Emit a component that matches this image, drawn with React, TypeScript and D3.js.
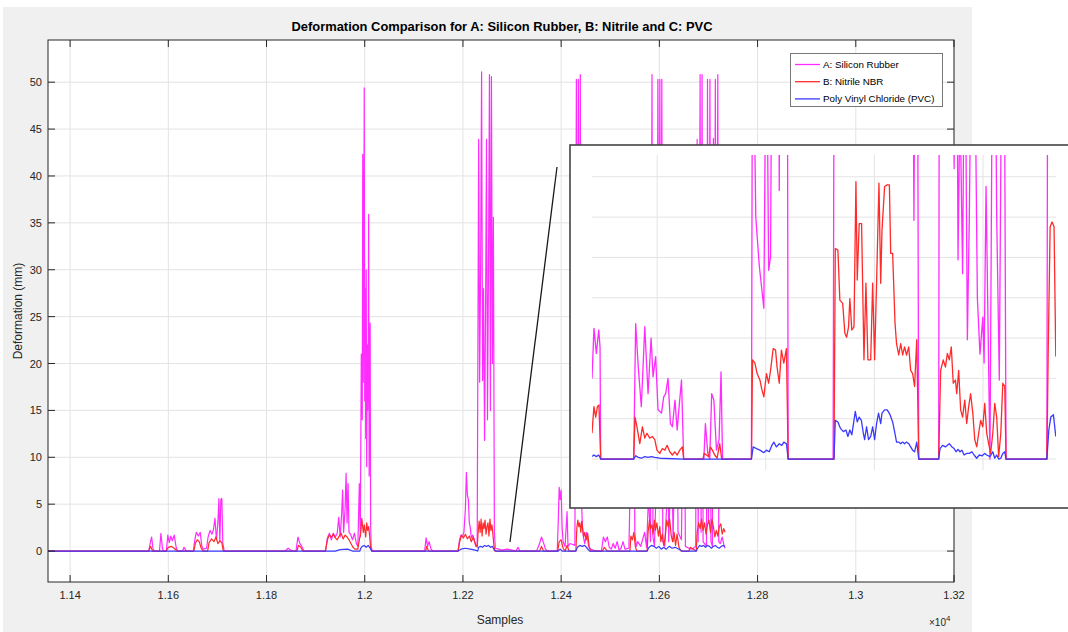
import React from 'react';
import * as d3 from 'd3';

type Pt = [number, number];

// axis ticks (samples, deformation mm)
const xTicks = [11400, 11600, 11800, 12000, 12200, 12400, 12600, 12800, 13000, 13200];
const yTicks = [0, 5, 10, 15, 20, 25, 30, 35, 40, 45, 50];
const seriesNames = ['A: Silicon Rubber', 'B: Nitrile NBR', 'Poly Vinyl Chloride (PVC)'];
const seriesColors = ['#ff2bff', '#ff2a2a', '#3a3aff'];

// main plot: [sample, deformation]
const siliconMain: Pt[] = [
  [11355, 0], [11560, 0], [11563, 0.8], [11566, 1.5], [11569, 0.2], [11572, 0], [11582, 0], [11585, 1.9], [11588, 0.3],
  [11590, 0], [11596, 0], [11599, 1.7], [11602, 0.9], [11605, 1.6], [11608, 1.1], [11612, 1.7], [11616, 0.4], [11619, 0],
  [11629, 0], [11632, 0.4], [11637, 0], [11651, 0], [11654, 1.2], [11657, 2.0], [11661, 1.6], [11665, 2.0], [11668, 0.6],
  [11671, 0.2], [11678, 0.3], [11681, 1.5], [11685, 2.2], [11689, 1.8], [11692, 2.3], [11695, 3.5], [11698, 1.2],
  [11701, 3.0], [11703, 5.6], [11705, 1.0], [11707, 5.5], [11709, 5.6], [11711, 0.8], [11714, 0],
  [11838, 0], [11844, 0.3], [11852, 0], [11860, 0], [11864, 1.5], [11868, 0.8], [11872, 0.5], [11876, 0],
  [11920, 0], [11924, 1.4], [11928, 1.9], [11932, 1.2], [11936, 1.9], [11940, 1.5], [11944, 1.9], [11947, 3.6],
  [11950, 1.5], [11953, 4.0], [11955, 6.5], [11957, 2.0], [11960, 4.5], [11962, 8.3], [11964, 3.0], [11966, 7.2],
  [11968, 2.0], [11971, 1.8], [11975, 1.2], [11979, 1.9], [11983, 0.8], [11986, 0.5], [11989, 7.2], [11991, 1.5],
  [11993, 21], [11995, 14], [11996, 42.3], [11997, 18], [11998, 30], [11999, 49.4], [12000, 16], [12001, 28], [12002, 12],
  [12003, 30], [12004, 9], [12005, 22], [12006, 15], [12007, 19], [12008, 35.9], [12009, 8], [12010, 18], [12011, 24.3],
  [12012, 3], [12013, 0.6], [12015, 0],
  [12122, 0], [12125, 1.4], [12128, 0.5], [12131, 1.0], [12135, 0.2], [12139, 0],
  [12190, 0], [12193, 1.2], [12196, 1.7], [12199, 1.5], [12202, 2.0], [12205, 4.5], [12207, 8.4], [12209, 6.0],
  [12211, 5.5], [12213, 3.0], [12215, 2.5], [12217, 1.4], [12220, 1.7], [12223, 1.2], [12226, 0.5], [12229, 0.6],
  [12232, 43.9], [12234, 18], [12236, 30], [12238, 51.1], [12240, 18.2], [12242, 28], [12244, 11.8], [12246, 25],
  [12248, 43.9], [12250, 14], [12252, 30], [12254, 50.8], [12256, 15], [12258, 50.6], [12260, 20], [12262, 35.6],
  [12264, 2], [12266, 0.3], [12280, 0.1], [12290, 0.2], [12300, 0.1], [12308, 0], [12312, 0.4], [12316, 0],
  [12350, 0], [12356, 0.8], [12360, 1.5], [12364, 0.9], [12368, 0.2], [12372, 0],
  [12392, 0], [12394, 3], [12396, 6.8], [12398, 5.5], [12400, 6.5], [12402, 2.5], [12404, 1.0], [12408, 0.5],
  [12412, 4.2], [12414, 0.5], [12418, 0.8], [12428, 0.6], [12431, 50.3], [12433, 8], [12435, 50.3], [12437, 10],
  [12439, 50.8], [12441, 6], [12443, 3.0], [12445, 1.6], [12448, 0.8], [12452, 2.0], [12456, 0.5], [12460, 0.2],
  [12470, 0], [12482, 0], [12486, 1.5], [12490, 1.0], [12494, 1.5], [12498, 0.4], [12502, 0.2], [12506, 0.8],
  [12510, 0.3], [12514, 1.0], [12518, 0.1], [12522, 0.3], [12526, 1.0], [12530, 0.2], [12538, 0.3], [12541, 8],
  [12544, 20], [12546, 10], [12548, 30], [12550, 2], [12553, 0.5], [12556, 1.0], [12562, 0.5], [12570, 2.0],
  [12574, 0.4], [12578, 6], [12582, 1.0], [12585, 50.8], [12587, 1.5], [12590, 0.5], [12594, 8], [12597, 50.3],
  [12599, 20], [12601, 50.3], [12603, 12], [12605, 50.3], [12607, 1.0], [12611, 0.5], [12615, 5], [12617, 30],
  [12619, 1], [12625, 12], [12628, 1], [12635, 25], [12638, 2], [12645, 1.2], [12650, 25], [12653, 0.5], [12660, 0.3],
  [12666, 0.2], [12674, 0.5], [12677, 43.9], [12679, 1], [12683, 50.8], [12685, 2], [12687, 50.8], [12689, 1],
  [12696, 0.5], [12698, 50.3], [12700, 3], [12703, 50.3], [12705, 1], [12708, 0.5], [12710, 44], [12712, 20],
  [12714, 50.3], [12716, 6], [12719, 50.8], [12721, 1.0], [12724, 0.8], [12728, 1.5], [12732, 0.5], [12734, 0.3],
];

const nitrileMain: Pt[] = [
  [11355, 0], [11560, 0], [11564, 0.5], [11568, 0], [11596, 0], [11600, 0.4], [11606, 0.5], [11612, 0.3], [11618, 0],
  [11652, 0], [11655, 0.8], [11659, 1.2], [11663, 1.0], [11667, 0.3], [11671, 0], [11680, 0], [11683, 0.9],
  [11688, 1.3], [11693, 1.0], [11697, 1.5], [11701, 0.8], [11705, 1.1], [11709, 0.9], [11712, 0],
  [11862, 0], [11865, 0.6], [11870, 0.4], [11874, 0], [11920, 0], [11924, 1.2], [11928, 1.7], [11932, 1.5],
  [11936, 1.8], [11940, 1.4], [11944, 1.2], [11948, 1.6], [11952, 1.9], [11956, 1.3], [11960, 1.7], [11964, 1.5],
  [11968, 1.2], [11972, 0.8], [11976, 0.4], [11980, 0.2], [11986, 0.2], [11989, 1.2], [11992, 2.0], [11994, 3.5],
  [11997, 2.0], [11999, 2.8], [12002, 1.5], [12004, 3.0], [12006, 2.2], [12008, 2.6], [12010, 1.6], [12012, 0.3],
  [12015, 0], [12124, 0], [12126, 0.5], [12130, 0], [12190, 0], [12193, 0.9], [12197, 1.7], [12201, 1.4],
  [12205, 1.8], [12209, 1.3], [12213, 1.6], [12217, 1.0], [12221, 1.5], [12225, 0.8], [12229, 0.4], [12231, 2.0],
  [12233, 3.2], [12235, 2.0], [12237, 3.4], [12239, 1.6], [12241, 3.0], [12243, 2.4], [12245, 3.3], [12247, 1.8],
  [12249, 2.6], [12251, 3.0], [12253, 1.6], [12255, 3.4], [12257, 2.2], [12259, 2.8], [12261, 1.8], [12263, 0.6],
  [12265, 0], [12356, 0], [12360, 0.5], [12364, 0], [12393, 0], [12396, 1.0], [12400, 1.2], [12404, 0.3],
  [12408, 0], [12412, 0.6], [12416, 0], [12430, 0], [12432, 2.5], [12434, 3.3], [12436, 2.6], [12438, 3.0],
  [12440, 2.0], [12442, 3.2], [12444, 2.2], [12446, 1.5], [12448, 2.0], [12451, 1.2], [12454, 1.9], [12457, 0.5],
  [12460, 0], [12484, 0], [12488, 0.4], [12494, 0], [12540, 0], [12542, 1.6], [12545, 1.2], [12548, 2.0],
  [12551, 0.5], [12554, 0], [12575, 0], [12577, 2.0], [12580, 3.3], [12582, 2.4], [12585, 2.8], [12587, 1.8],
  [12590, 3.3], [12592, 2.2], [12595, 3.0], [12598, 1.6], [12601, 2.6], [12603, 1.0], [12606, 1.8], [12609, 0.6],
  [12612, 1.5], [12615, 3.3], [12618, 2.6], [12621, 3.4], [12624, 1.7], [12627, 1.0], [12630, 2.0], [12633, 0.6],
  [12636, 1.8], [12640, 0.4], [12644, 0], [12660, 0], [12663, 0.4], [12675, 0], [12677, 2.0], [12680, 3.0],
  [12683, 2.4], [12686, 3.4], [12689, 2.2], [12692, 3.0], [12695, 1.8], [12698, 2.8], [12701, 3.3], [12704, 2.0],
  [12707, 3.4], [12710, 2.6], [12713, 1.5], [12716, 2.2], [12719, 1.6], [12722, 2.6], [12725, 2.9], [12728, 1.8],
  [12731, 2.4], [12734, 2.0],
];

const pvcMain: Pt[] = [
  [11355, 0], [11940, 0], [11950, 0.15], [11965, 0.2], [11975, 0], [11990, 0], [11992, 0.3], [11995, 0.5],
  [11999, 0.6], [12003, 0.4], [12007, 0.6], [12011, 0.3], [12014, 0], [12190, 0], [12196, 0.2], [12205, 0.3],
  [12215, 0.2], [12225, 0.1], [12230, 0], [12232, 0.4], [12236, 0.5], [12240, 0.4], [12244, 0.6], [12248, 0.5],
  [12252, 0.6], [12256, 0.4], [12260, 0.5], [12264, 0.1], [12268, 0], [12394, 0], [12398, 0.2], [12402, 0],
  [12430, 0], [12433, 0.4], [12438, 0.6], [12443, 0.5], [12448, 0.6], [12453, 0.3], [12458, 0], [12575, 0],
  [12579, 0.4], [12584, 0.6], [12589, 0.5], [12594, 0.3], [12599, 0.5], [12604, 0.2], [12609, 0.4], [12614, 0.2],
  [12620, 0.5], [12626, 0.3], [12632, 0.4], [12640, 0.2], [12646, 0], [12675, 0], [12678, 0.3], [12682, 0.6],
  [12686, 0.5], [12690, 0.6], [12694, 0.4], [12698, 0.6], [12702, 0.5], [12706, 0.3], [12710, 0.5], [12714, 0.6],
  [12718, 0.4], [12722, 0.3], [12726, 0.5], [12730, 0.6], [12734, 0.5],
];

// zoomed inset: [position, deformation in 0.01 mm]
const insetXTicks = [50, 100, 150, 200];
const insetYTicks = [0, 5, 10, 15, 20, 25, 30, 35];

const siliconInset: Pt[] = [
  [20.0, 10], [20.9, 16.2], [22.0, 13.1], [23.1, 16], [23.7, 13.9], [24.0, 0],
  [39.2, 0], [40.1, 16.8], [41.3, 11.4], [42.7, 6.5], [44.3, 16.4], [45.8, 8.1], [47.2, 15], [48.1, 10.2], [49.3, 12.7],
  [50.4, 6.1], [52.0, 5.7], [53.0, 7.7], [53.9, 8.1], [55.0, 10], [56.1, 4.4], [57.0, 4], [58.2, 7.3], [59.2, 3.6],
  [60.1, 6.5], [61.2, 9.8], [62.2, 0],
  [71.5, 0], [72.2, 4.4], [73.3, 0.7], [74.2, 0], [75.1, 8.1], [76.1, 7.3], [77.3, 1.1], [78.5, 2.4], [79.4, 10.8], [80.1, 0],
  [93.4, 0], [93.9, 60], [95.4, 30], [97.0, 24], [99.1, 18.7], [100.3, 60], [101.3, 23.4], [102.2, 25.1], [102.9, 60],
  [105.9, 60], [106.2, 33.3], [106.5, 60], [109.9, 60], [110.3, 0],
  [131.0, 0], [131.5, 60], [167.6, 60], [168.2, 29.6], [168.8, 60], [169.8, 60], [170.4, 0],
  [179.6, 0], [179.9, 60], [186.0, 60], [186.7, 36], [187.3, 60], [187.9, 60], [188.5, 24.7], [189.4, 45], [190.6, 23],
  [191.6, 60], [192.8, 14.8], [193.7, 30], [194.9, 60], [195.9, 60], [197.4, 20], [198.6, 13], [199.9, 17.6],
  [200.5, 11.9], [201.4, 33.8], [203.2, 0], [204.5, 60], [205.4, 60], [206.3, 30], [207.5, 9.8], [208.8, 60],
  [209.7, 60], [210.6, 0],
  [229.4, 0], [229.8, 60], [233.5, 60],
];

const nitrileInset: Pt[] = [
  [20.0, 3.2], [20.9, 6.5], [21.7, 5.2], [22.5, 6.5], [23.2, 6.7], [24.0, 0],
  [39.2, 0], [39.8, 5.2], [40.7, 4], [42.0, 1.9], [43.2, 4], [44.3, 2.6], [45.3, 3.2], [46.6, 2.6], [47.8, 2.8],
  [48.9, 2.4], [49.9, 1.1], [51.2, 0.7], [52.4, 1.3], [53.5, 1.1], [54.6, 1.7], [55.8, 0.9], [57.0, 0.5], [58.1, 0.9],
  [59.2, 0.5], [60.4, 1.1], [61.6, 1.5], [62.2, 0],
  [71.1, 0], [71.6, 0.7], [72.7, 0.5], [73.6, 0.3], [74.5, 1.5], [75.4, 1.1], [76.5, 0.5], [77.6, 0.1], [78.8, 1.9], [79.7, 0],
  [93.4, 0], [93.9, 12.3], [95.0, 11.9], [96.0, 10.6], [97.3, 9.8], [98.2, 8.6], [99.1, 7.7], [100.3, 10.6], [101.3, 9.4],
  [102.2, 11], [103.4, 13.7], [104.5, 13.5], [105.2, 11.4], [106.2, 9.4], [107.2, 13.5], [108.3, 11.9], [109.5, 13.7],
  [110.3, 0],
  [131.4, 0], [132.0, 26.1], [133.2, 25.9], [134.1, 19.7], [135.4, 19.3], [136.4, 15.6], [137.2, 15.1], [138.1, 16.4],
  [138.7, 19.9], [139.6, 16], [140.6, 16.4], [141.5, 34.4], [142.1, 22.2], [143.0, 29.2], [144.1, 29.2], [145.2, 12.3],
  [146.1, 21.8], [147.0, 12.3], [148.3, 12.3], [149.2, 21.8], [150.1, 12.3], [151.0, 21.8], [152.1, 34.2], [152.9, 21.8],
  [153.5, 28.4], [154.7, 33.8], [155.9, 34], [156.9, 34], [157.5, 25.5], [158.4, 25.5], [159.5, 16.8], [160.2, 14.3],
  [161.2, 12.9], [162.1, 14.3], [163.0, 12.9], [163.9, 13.9], [164.8, 12.9], [165.8, 13.9], [166.7, 11], [167.6, 10.6],
  [168.5, 9], [169.5, 14.8], [170.4, 0],
  [179.6, 0], [180.5, 11], [181.7, 12.3], [182.7, 11.4], [183.6, 13.1], [184.5, 12.3], [185.4, 13.9], [186.3, 9.4],
  [187.3, 9.8], [187.9, 8.1], [188.8, 11], [189.7, 6.1], [190.6, 5.2], [191.6, 7.3], [192.5, 4.4], [193.4, 6.5],
  [194.3, 8.1], [195.3, 5.7], [196.2, 2.4], [197.1, 1.5], [198.0, 3.2], [198.9, 4.8], [199.9, 4], [200.8, 6.9],
  [201.7, 3.2], [202.6, 1.9], [203.5, 0.7], [204.5, 3.2], [205.4, 6.9], [206.3, 5.2], [207.2, 0.3], [208.2, 3.2],
  [209.1, 9.4], [210.0, 9], [210.6, 0],
  [229.4, 0], [230.0, 13.1], [230.9, 28.8], [231.8, 29.4], [232.7, 28.8], [233.5, 12.7],
];

const pvcInset: Pt[] = [
  [20.0, 0.3], [20.9, 0.5], [22.0, 0.3], [23.1, 0.5], [24.0, 0],
  [39.2, 0], [40.1, 0.4], [41.3, 0.2], [42.7, 0.1], [44.3, 0.3], [45.8, 0.2], [47.3, 0.3], [48.9, 0.2], [51.2, 0.1], [62.2, 0],
  [93.4, 0], [94.2, 1.5], [95.7, 1.3], [97.3, 1.1], [99.1, 0.8], [100.3, 1.1], [101.6, 0.9], [102.8, 1.7], [103.7, 2.1],
  [104.9, 1.5], [106.2, 1.9], [107.4, 1.7], [108.3, 2.1], [109.5, 1.9], [110.3, 0],
  [131.4, 0], [132.0, 4.8], [133.2, 4.6], [134.4, 3.8], [135.7, 3.4], [136.9, 3.6], [137.8, 2.8], [138.7, 3.6], [139.6, 3],
  [140.6, 4.8], [141.2, 5.9], [142.1, 4.6], [143.0, 5.2], [144.0, 4.8], [144.9, 3.2], [145.5, 2.4], [146.4, 4],
  [147.3, 2.4], [148.3, 2.8], [149.2, 4], [150.1, 2.4], [151.0, 4.4], [151.9, 5.7], [152.9, 4.4], [153.5, 5.7],
  [154.7, 6.1], [155.9, 6.1], [157.2, 5.5], [158.4, 4.6], [159.3, 3.4], [160.2, 2.1], [161.2, 2.1], [162.1, 1.9],
  [163.0, 2.1], [163.9, 1.9], [164.8, 2.1], [165.8, 1.9], [166.7, 1.5], [167.6, 1.1], [168.5, 0.9], [169.5, 2.1], [170.4, 0],
  [179.6, 0], [180.2, 1.3], [181.4, 1.7], [182.7, 1.5], [183.6, 1.7], [184.5, 1.9], [185.7, 1.5], [186.7, 1.3],
  [187.6, 0.9], [188.5, 1.2], [189.4, 0.9], [190.3, 1.1], [191.3, 0.5], [192.5, 0.7], [193.7, 0.7], [194.9, 0.9],
  [195.9, 0.5], [197.1, 0.1], [198.3, 0.5], [199.6, 0.4], [200.8, 0.7], [201.7, 0.5], [203.2, 0.3], [204.5, 0.9],
  [205.4, 0.1], [206.3, 0.5], [207.2, 0], [208.2, 0.1], [209.1, 0.7], [210.0, 0.9], [210.6, 0],
  [229.4, 0], [230.3, 3.6], [231.2, 5.2], [232.4, 5.5], [233.5, 2.8],
];

const font = 'Liberation Sans, Arial, Helvetica, sans-serif';
const axisColor = '#262626';
const gridColor = '#e3e3e3';

export default function App() {
  const W = 1068, H = 632;
  const L = 48, R = 954, T = 40, B = 582;

  const x = d3.scaleLinear().domain([11355, 13200]).range([L, R]);
  const y = d3.scaleLinear().domain([-3.3, 54.5]).range([B, T]);
  const line = d3.line<Pt>().x(d => x(d[0])).y(d => y(d[1]));

  // inset axes
  const iL = 592, iR = 1056, iT = 155, iB = 470;
  const ix = d3.scaleLinear().domain([20, 233.6]).range([iL, iR]);
  const iy = d3.scaleLinear().domain([-1.36, 37.7]).range([iB, iT]);
  const iline = d3.line<Pt>().x(d => ix(d[0])).y(d => iy(d[1]));

  const mainSeries = [siliconMain, nitrileMain, pvcMain];
  const insetSeries = [siliconInset, nitrileInset, pvcInset];
  const tick = 7;

  return (
    <div style={{ position: 'absolute', left: 0, top: 0 }}>
      <svg width={W} height={H} style={{ display: 'block', background: '#fff' }} fontFamily={font}>
        <defs>
          <clipPath id="plotClip"><rect x={L} y={T} width={R - L} height={B - T} /></clipPath>
          <clipPath id="insetClip"><rect x={iL} y={iT} width={iR - iL} height={iB - iT} /></clipPath>
        </defs>
        <rect x={3} y={7} width={969} height={625} fill="#f0f0f0" />
        <rect x={L} y={T} width={R - L} height={B - T} fill="#fff" />

        {/* grid */}
        {xTicks.map(t => (
          <line key={'gx' + t} x1={x(t)} x2={x(t)} y1={T} y2={B} stroke={gridColor} strokeWidth={1} />
        ))}
        {yTicks.map(t => (
          <line key={'gy' + t} x1={L} x2={R} y1={y(t)} y2={y(t)} stroke={gridColor} strokeWidth={1} />
        ))}

        {/* data */}
        <g clipPath="url(#plotClip)" fill="none" strokeLinejoin="round">
          {mainSeries.map((s, i) => (
            <path key={'m' + i} d={line(s) || ''} stroke={seriesColors[i]} strokeWidth={1.2} />
          ))}
        </g>

        {/* axes box and ticks */}
        <rect x={L} y={T} width={R - L} height={B - T} fill="none" stroke={axisColor} strokeWidth={1} />
        {xTicks.map(t => (
          <g key={'tx' + t}>
            <line x1={x(t)} x2={x(t)} y1={B} y2={B - tick} stroke={axisColor} />
            <line x1={x(t)} x2={x(t)} y1={T} y2={T + tick} stroke={axisColor} />
            <text x={x(t)} y={B + 17} textAnchor="middle" fontSize={11} fill={axisColor}>
              {String(+(t / 1e4).toFixed(2))}
            </text>
          </g>
        ))}
        {yTicks.map(t => (
          <g key={'ty' + t}>
            <line x1={L} x2={L + tick} y1={y(t)} y2={y(t)} stroke={axisColor} />
            <line x1={R} x2={R - tick} y1={y(t)} y2={y(t)} stroke={axisColor} />
            <text x={L - 6} y={y(t) + 4} textAnchor="end" fontSize={11} fill={axisColor}>{t}</text>
          </g>
        ))}

        <text x={502} y={31} textAnchor="middle" fontSize={12.5} fontWeight="bold" fill="#000"
          textLength={421} lengthAdjust="spacingAndGlyphs">
          Deformation Comparison for A: Silicon Rubber, B: Nitrile and C: PVC
        </text>
        <text x={500} y={624} textAnchor="middle" fontSize={12} fill={axisColor}>Samples</text>
        <text x={929} y={626} fontSize={10} fill={axisColor}>
          ×10<tspan dy={-5} fontSize={8}>4</tspan>
        </text>
        <text transform="translate(22,311) rotate(-90)" textAnchor="middle" fontSize={12} fill={axisColor}>
          Deformation (mm)
        </text>

        {/* legend */}
        <rect x={790.5} y={53.5} width={152} height={53} fill="#fff" stroke="#777" strokeWidth={1} />
        {seriesNames.map((n, i) => (
          <g key={'lg' + i}>
            <line x1={795} x2={820} y1={64.5 + i * 17.2} y2={64.5 + i * 17.2} stroke={seriesColors[i]} strokeWidth={1.3} />
            <text x={823} y={68 + i * 17.2} fontSize={9.8} fill="#000">{n}</text>
          </g>
        ))}

        {/* pointer to inset */}
        <line x1={510} y1={542} x2={557} y2={167} stroke="#1a1a1a" strokeWidth={1.3} />

        {/* inset */}
        <rect x={570} y={145} width={520} height={363} fill="#fff" stroke="#444" strokeWidth={1.6} />
        {insetXTicks.map(t => (
          <line key={'igx' + t} x1={ix(t)} x2={ix(t)} y1={iT} y2={iB} stroke={gridColor} strokeWidth={1} />
        ))}
        {insetYTicks.map(t => (
          <line key={'igy' + t} x1={iL} x2={iR} y1={iy(t)} y2={iy(t)} stroke={gridColor} strokeWidth={1} />
        ))}
        <g clipPath="url(#insetClip)" fill="none" strokeLinejoin="round">
          {insetSeries.map((s, i) => (
            <path key={'i' + i} d={iline(s) || ''} stroke={seriesColors[i]} strokeWidth={1.3} />
          ))}
        </g>
      </svg>
    </div>
  );
}
